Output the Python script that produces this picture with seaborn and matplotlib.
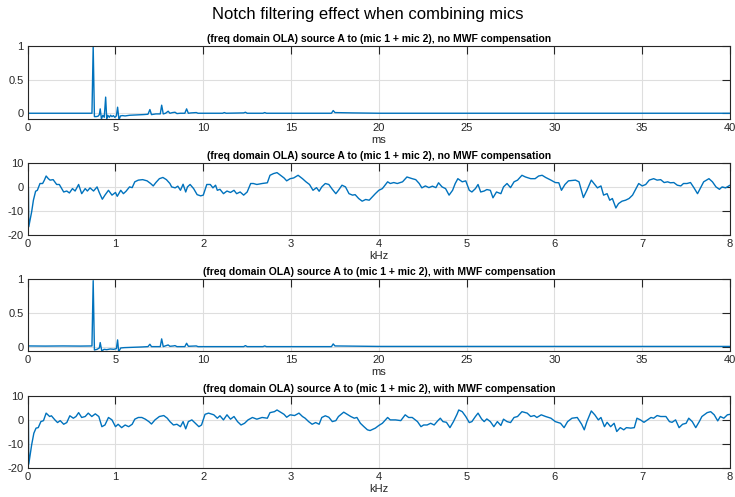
import matplotlib
matplotlib.use("Agg")
import matplotlib.pyplot as plt
import pandas as pd
import seaborn as sns

# ---------------------------------------------------------------- data
# Impulse response, no MWF compensation (time in ms, normalised amplitude)
ir_raw_t = [0.0, 3.66, 3.73, 3.80, 3.90, 4.00, 4.08, 4.13, 4.20, 4.28, 4.36, 4.44,
            4.50, 4.56, 4.65, 4.72, 4.80, 4.88, 4.96, 5.05, 5.12, 5.20, 5.28, 5.40,
            5.55, 5.80, 6.20, 6.60, 6.85, 6.96, 7.05, 7.30, 7.55, 7.63, 7.72, 7.85,
            8.00, 8.10, 8.25, 8.39, 8.50, 8.70, 8.95, 9.05, 9.15, 9.30, 9.60, 9.70,
            9.80, 11.10, 11.20, 11.30, 12.30, 12.40, 12.50, 13.40, 13.50, 13.60,
            17.30, 17.40, 17.50, 18.50, 20.0, 40.0]
ir_raw_a = [0.0, 0.0, 1.0, -0.05, -0.05, -0.045, -0.02, 0.065, -0.085, -0.03, -0.06, 0.24,
            -0.08, -0.03, -0.06, -0.03, -0.05, -0.035, -0.06, -0.04, 0.09, -0.10, -0.04, -0.035,
            -0.04, -0.03, -0.025, -0.02, -0.015, 0.055, -0.02, -0.01, -0.01, 0.12, -0.01, 0.0,
            0.03, 0.0, 0.01, 0.015, -0.005, 0.0, 0.0, 0.065, 0.0, 0.005, 0.01, 0.0,
            0.0, 0.0, 0.01, 0.0, 0.005, 0.015, 0.0, 0.0, 0.01, 0.0,
            0.0, 0.04, 0.01, 0.005, 0.0, 0.0]

# Impulse response, with MWF compensation
ir_mwf_t = [0.0, 1.0, 2.0, 3.0, 3.66, 3.73, 3.80, 3.95, 4.08, 4.13, 4.22, 4.35,
            4.50, 4.70, 4.90, 5.05, 5.12, 5.18, 5.30, 5.50, 6.00, 6.50, 6.85, 6.96,
            7.05, 7.55, 7.63, 7.72, 8.00, 8.10, 8.30, 8.39, 8.50, 8.95, 9.05, 9.15,
            9.60, 9.70, 12.30, 12.40, 12.50, 13.40, 13.50, 13.60, 17.30, 17.40, 17.50,
            20.0, 40.0]
ir_mwf_a = [0.01, 0.008, 0.01, 0.008, 0.01, 0.98, -0.05, -0.04, -0.02, 0.06, -0.065, -0.04,
            -0.045, -0.035, -0.04, -0.03, 0.10, -0.075, -0.02, -0.015, -0.01, -0.005, 0.0, 0.035,
            0.0, 0.0, 0.115, 0.0, 0.025, 0.005, 0.01, 0.015, 0.0, 0.0, 0.05, 0.005,
            0.01, 0.0, 0.0, 0.015, 0.0, 0.0, 0.01, 0.0, 0.0, 0.04, 0.01,
            0.003, 0.003]

# Magnitude response, no MWF compensation (kHz, dB)
fr_raw_f = [0.0, 0.008, 0.012, 0.045, 0.065, 0.09, 0.11, 0.14, 0.17, 0.19, 0.21, 0.235, 0.255,
            0.29, 0.33, 0.36, 0.41, 0.445, 0.475, 0.51, 0.54, 0.58, 0.615, 0.655, 0.68,
            0.71, 0.75, 0.79, 0.815, 0.85, 0.88, 0.92, 0.96, 1.0, 1.02, 1.06, 1.09,
            1.12, 1.16, 1.19, 1.22, 1.26, 1.31, 1.36, 1.40, 1.43, 1.46, 1.50, 1.54,
            1.58, 1.62, 1.64, 1.68, 1.71, 1.74, 1.77, 1.80, 1.82, 1.85, 1.89, 1.93,
            1.97, 2.0, 2.04, 2.08, 2.11, 2.14, 2.16, 2.19, 2.23, 2.27, 2.31, 2.35,
            2.38, 2.42, 2.46, 2.50, 2.54, 2.57, 2.61, 2.67, 2.73, 2.76, 2.80, 2.84,
            2.88, 2.92, 2.95, 2.99, 3.03, 3.08, 3.13, 3.17, 3.21, 3.25, 3.29, 3.32,
            3.35, 3.39, 3.43, 3.47, 3.51, 3.54, 3.58, 3.62, 3.66, 3.70, 3.73, 3.77,
            3.81, 3.85, 3.89, 3.96, 4.0, 4.04, 4.10, 4.13, 4.17, 4.21, 4.27, 4.32,
            4.38, 4.42, 4.46, 4.49, 4.53, 4.57, 4.61, 4.65, 4.68, 4.72, 4.76, 4.80,
            4.84, 4.87, 4.90, 4.95, 4.99, 5.03, 5.06, 5.10, 5.13, 5.16, 5.20, 5.23,
            5.27, 5.30, 5.34, 5.39, 5.42, 5.46, 5.50, 5.54, 5.58, 5.63, 5.67, 5.73,
            5.78, 5.82, 5.86, 5.90, 5.96, 6.01, 6.05, 6.08, 6.12, 6.16, 6.24, 6.28,
            6.33, 6.37, 6.42, 6.45, 6.49, 6.53, 6.56, 6.60, 6.63, 6.66, 6.70, 6.73,
            6.77, 6.81, 6.85, 6.89, 6.93, 6.96, 7.0, 7.04, 7.08, 7.13, 7.17, 7.21,
            7.25, 7.29, 7.32, 7.36, 7.40, 7.44, 7.47, 7.51, 7.55, 7.59, 7.63, 7.67,
            7.70, 7.76, 7.80, 7.84, 7.88, 7.91, 7.95, 8.0]
fr_raw_db = [0.0, 0.0, -16.5, -10.3, -5.5, -1.8, -1.4, 1.4, 1.4, 2.8, 4.5, 3.4, 2.8,
             3.0, 1.0, 1.0, -2.1, -1.7, -2.5, -0.7, -1.7, 1.0, -2.8, -0.7, -1.7,
             -0.4, -1.7, 0.0, -2.3, -5.1, -3.4, -1.4, -3.4, -2.3, -3.9, -1.4, -2.8,
             -1.8, 0.0, -0.3, 2.1, 2.8, 3.0, 2.5, 1.4, 0.4, 1.8, 3.4, 3.9,
             3.0, 1.4, 0.0, -0.4, 0.3, -1.4, 1.1, -2.1, 0.0, 1.0, -0.7, -3.2,
             -3.7, -3.4, 1.0, 1.0, -0.4, 0.7, -1.4, -1.0, -2.8, -1.7, -2.3, -1.4,
             -2.8, -2.1, -3.4, -2.1, 1.4, 1.4, 1.0, 1.4, 1.7, 4.8, 5.5, 5.9,
             4.8, 3.7, 2.5, 3.4, 3.7, 4.8, 3.4, 2.1, 1.0, -1.4, -0.3, -1.8,
             0.0, 1.4, 1.0, -1.0, -2.8, -1.4, 0.7, 0.0, -2.8, -3.4, -3.2, -4.8,
             -5.9, -5.2, -5.5, -2.8, -1.4, -0.7, 2.1, 1.4, 1.8, 1.4, 2.1, 4.1,
             3.4, 3.0, 1.4, -0.4, 0.4, -0.3, 0.3, -0.3, 1.7, 0.0, -0.7, -3.4,
             -1.4, 1.4, 3.4, 2.1, 2.5, -1.4, -2.1, -0.7, 1.0, -2.1, -1.7, -1.1,
             -1.4, -4.5, -2.1, -2.8, 0.0, 1.4, -0.3, 2.1, 2.8, 4.8, 4.1, 3.4,
             3.4, 4.5, 4.8, 3.9, 2.8, 1.8, 1.7, -1.4, 1.0, 2.5, 2.8, 2.1,
             -4.4, -1.4, 2.8, 1.4, -0.4, 0.4, -3.4, -2.8, -5.5, -4.8, -8.7, -6.9,
             -5.9, -5.5, -4.8, -3.4, -0.7, 1.4, 0.4, 1.0, 2.8, 3.4, 2.8, 3.0,
             1.8, 2.1, 1.7, 1.8, 0.7, 0.4, 1.4, 1.4, 1.8, -0.4, -2.8, 0.0,
             2.1, 3.4, 2.1, 0.0, -1.0, 0.0, -0.4, 0.7]

# Magnitude response, with MWF compensation (kHz, dB)
fr_mwf_f = [0.0, 0.008, 0.012, 0.045, 0.07, 0.095, 0.12, 0.15, 0.18, 0.21, 0.25, 0.27, 0.31,
            0.34, 0.37, 0.41, 0.445, 0.48, 0.52, 0.55, 0.58, 0.615, 0.655, 0.69, 0.73,
            0.77, 0.81, 0.845, 0.88, 0.92, 0.96, 1.0, 1.03, 1.07, 1.11, 1.15, 1.19,
            1.22, 1.26, 1.30, 1.34, 1.38, 1.41, 1.45, 1.50, 1.55, 1.59, 1.62, 1.66,
            1.70, 1.74, 1.77, 1.80, 1.83, 1.87, 1.91, 1.95, 1.98, 2.02, 2.06, 2.12,
            2.16, 2.19, 2.23, 2.27, 2.31, 2.35, 2.39, 2.43, 2.47, 2.51, 2.56, 2.61,
            2.67, 2.73, 2.76, 2.81, 2.84, 2.88, 2.92, 2.95, 2.99, 3.04, 3.09, 3.13,
            3.16, 3.20, 3.24, 3.28, 3.32, 3.35, 3.39, 3.43, 3.47, 3.51, 3.54, 3.60,
            3.64, 3.68, 3.72, 3.75, 3.79, 3.83, 3.87, 3.90, 3.96, 4.0, 4.04, 4.10,
            4.13, 4.19, 4.25, 4.30, 4.34, 4.38, 4.44, 4.48, 4.51, 4.55, 4.59, 4.63,
            4.67, 4.70, 4.73, 4.77, 4.81, 4.85, 4.89, 4.91, 4.95, 4.99, 5.03, 5.06,
            5.10, 5.13, 5.17, 5.20, 5.23, 5.27, 5.31, 5.35, 5.39, 5.42, 5.46, 5.50,
            5.54, 5.58, 5.63, 5.69, 5.73, 5.77, 5.80, 5.85, 5.90, 5.96, 6.01, 6.07,
            6.11, 6.15, 6.20, 6.26, 6.31, 6.34, 6.37, 6.42, 6.46, 6.50, 6.53, 6.57,
            6.60, 6.64, 6.68, 6.71, 6.75, 6.79, 6.82, 6.87, 6.91, 6.94, 6.98, 7.02,
            7.06, 7.10, 7.13, 7.17, 7.21, 7.27, 7.31, 7.34, 7.38, 7.42, 7.46, 7.50,
            7.53, 7.57, 7.61, 7.65, 7.68, 7.74, 7.78, 7.82, 7.86, 7.89, 7.93, 7.97,
            8.0]
fr_mwf_db = [0.0, 0.0, -18.3, -10.3, -5.5, -3.4, -3.2, -0.7, -0.3, 2.8, 1.4, 1.7, 0.0,
             -1.1, -0.3, -1.8, -1.1, 1.7, 0.7, 1.4, 3.0, 1.0, 1.4, 2.8, 1.4,
             2.5, 1.4, -2.8, -2.1, 1.0, 0.0, -2.8, -1.8, -3.2, -2.1, -2.8, -1.8,
             0.3, 1.0, 1.0, 0.3, -0.7, -1.7, 0.0, 1.4, 1.8, 0.7, -0.7, -2.1,
             -1.8, -2.8, -0.7, -3.7, -0.7, 0.0, -1.4, -2.8, -2.1, 2.3, 2.8, 2.1,
             0.7, 1.7, 0.0, 2.1, 0.3, 1.4, -0.7, -2.1, -1.4, 0.0, 1.0, 0.3,
             1.0, 0.7, 3.0, 3.4, 4.1, 3.2, 2.3, 1.1, 2.1, 1.8, 2.8, 1.4,
             0.7, -0.7, -1.8, -1.1, -1.8, 1.0, 1.7, 1.1, -0.7, -0.3, 1.4, 3.2,
             2.3, 1.4, 0.7, 1.0, -1.4, -2.8, -4.1, -4.4, -3.4, -2.3, -1.4, 1.0,
             0.0, 0.0, -0.3, 2.1, 1.0, 1.0, -0.7, -2.8, -2.1, -2.1, -1.4, -2.1,
             -0.4, 0.7, -0.7, -1.0, -3.2, -0.7, 2.3, 4.1, 3.4, 1.4, -1.1, -0.7,
             1.4, 2.8, 0.4, -0.7, 0.4, -0.7, -2.8, -0.7, -2.3, 0.3, -0.7, -1.1,
             1.0, 1.4, 3.4, 2.8, 1.4, 1.8, 1.0, 2.1, 1.4, 0.7, -0.7, -1.4,
             -3.2, -0.7, 0.7, 1.0, -1.8, -4.1, -0.7, 3.7, 2.1, 0.0, 1.0, -2.8,
             -1.0, -2.8, -1.4, -4.8, -3.2, -4.1, -3.2, -3.4, -3.2, 0.7, 0.0, -1.0,
             0.0, 1.0, 0.7, 1.8, 1.4, 1.4, -0.7, -1.0, 0.0, -3.2, -1.8, -1.4,
             0.7, -0.7, -3.2, -0.7, 1.4, 3.0, 3.4, 2.1, -0.4, 1.4, 0.7, 2.1,
             2.3]

suptitle = "Notch filtering effect when combining mics"
titles = ["(freq domain OLA) source A to (mic 1 + mic 2), no MWF compensation",
          "(freq domain OLA) source A to (mic 1 + mic 2), no MWF compensation",
          "(freq domain OLA) source A to (mic 1 + mic 2), with MWF compensation",
          "(freq domain OLA) source A to (mic 1 + mic 2), with MWF compensation"]
xlabels = ["ms", "kHz", "ms", "kHz"]
ir_yticks = [0, 0.5, 1]
ir_yticklabels = ["0", "0.5", "1"]
fr_yticks = [-20, -10, 0, 10]
ms_xticks = [0, 5, 10, 15, 20, 25, 30, 35, 40]
khz_xticks = [0, 1, 2, 3, 4, 5, 6, 7, 8]

# ---------------------------------------------------------------- style
sns.set_theme(style="white")
plt.rcParams["font.family"] = ["Liberation Sans", "DejaVu Sans"]
plt.rcParams["axes.unicode_minus"] = False

LINE = "#0072BD"
INK = "#262626"

fig = plt.figure(figsize=(7.35, 4.97), dpi=100)
fig.patch.set_facecolor("white")

W, H = 735.0, 497.0
left, right = 27.7, 730.0
panel_px = [(46.0, 119.3), (162.7, 235.3), (279.3, 351.0), (395.7, 468.3)]

series = [
    (ir_raw_t, ir_raw_a, (0, 40), (-0.09, 1.0), ms_xticks, ir_yticks, ir_yticklabels),
    (fr_raw_f, fr_raw_db, (0, 8), (-20, 10), khz_xticks, fr_yticks, None),
    (ir_mwf_t, ir_mwf_a, (0, 40), (-0.065, 1.0), ms_xticks, ir_yticks, ir_yticklabels),
    (fr_mwf_f, fr_mwf_db, (0, 8), (-20, 10), khz_xticks, fr_yticks, None),
]

for i, ((top, bot), (xs, ys, xl, yl, xt, yt, ytl)) in enumerate(zip(panel_px, series)):
    ax = fig.add_axes([left / W, 1 - bot / H, (right - left) / W, (bot - top) / H])
    df = pd.DataFrame({"x": xs, "y": ys})
    sns.lineplot(data=df, x="x", y="y", ax=ax, color=LINE, linewidth=1.0,
                 estimator=None, sort=False)
    ax.set_xlim(*xl)
    ax.set_ylim(*yl)
    ax.set_xticks(xt)
    ax.set_xticklabels([str(v) for v in xt])
    ax.set_yticks(yt)
    if ytl is not None:
        ax.set_yticklabels(ytl)
    else:
        ax.set_yticklabels([str(v) for v in yt])
    ax.grid(True, color="#dedede", linewidth=0.8)
    ax.set_axisbelow(True)
    for sp in ax.spines.values():
        sp.set_visible(True)
        sp.set_color(INK)
        sp.set_linewidth(0.8)
    ax.tick_params(axis="both", which="both", direction="in", length=6, width=0.8,
                   color=INK, labelcolor=INK, labelsize=8, top=True, right=True,
                   pad=3)
    ax.set_xlabel(xlabels[i], fontsize=8, color=INK, labelpad=1)
    ax.set_ylabel("")
    ax.set_title(titles[i], fontsize=7.5, fontweight="bold", color="black", pad=3)

fig.text(0.5, 1 - 15 / H, suptitle, ha="center", va="center", fontsize=12, color="black")

fig.savefig("out.png", dpi=100, facecolor="white")
